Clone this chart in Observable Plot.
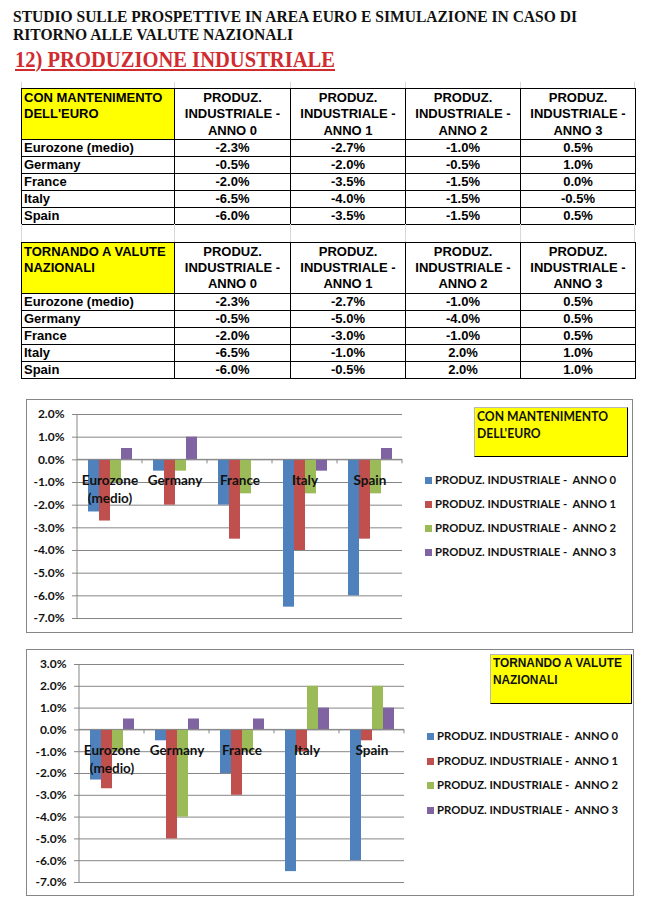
<!DOCTYPE html>
<html>
<head>
<meta charset="utf-8">
<script src="https://cdn.jsdelivr.net/npm/d3@7"></script>
<script src="https://cdn.jsdelivr.net/npm/@observablehq/plot@0.6"></script>
<style>
  body { margin: 0; background: #fff; }
  #page { position: relative; width: 660px; height: 907px; overflow: hidden; background: #fff; }
  .fit { position: absolute; white-space: nowrap; transform-origin: 0 0; }
  .title { font-family: "Liberation Serif", "Times New Roman", serif; font-weight: bold; font-size: 16.5px; line-height: 18px; color: #111; }
  .heading { font-family: "Liberation Serif", "Times New Roman", serif; font-weight: bold; font-size: 23px; line-height: 26px; color: #d02b2f;
             text-decoration: underline; text-decoration-thickness: 2px; text-underline-offset: 2px; }
  table.t { position: absolute; left: 21px; border-collapse: collapse; table-layout: fixed; width: 614px;
            font-family: "Liberation Sans", Arial, sans-serif; font-weight: bold; font-size: 13px; color: #000; }
  table.t td { border: 1px solid #000; padding: 0 2px; white-space: nowrap; overflow: hidden; }
  table.t tr.data td { height: 16px; line-height: 16px; }
  table.t td.ttl { background: #ffff00; vertical-align: top; text-align: left; white-space: pre-line; line-height: 16.3px; padding-top: 1px; }
  table.t td.hd { vertical-align: top; text-align: center; white-space: normal; line-height: 16.3px; padding-top: 1px; }
  table.t td.val { text-align: center; }
  table.t td.lbl { text-align: left; }
  .gapline { position: absolute; width: 1px; background: #d6d8da; }
  .chart { position: absolute; }
  .chart .frame { position: absolute; left: 0; top: 0; right: 0; bottom: 0; border: 1px solid #868686; box-sizing: border-box; }
  .chart svg { position: absolute; left: 0; top: 0; }
  .ybox { position: absolute; background: #ffff00; border: 1px solid #b8b8b8; border-right: 1.5px solid #000; border-bottom: 1.5px solid #000; box-sizing: border-box; }
  .ybox .in { position: absolute; left: 2px; top: 0; white-space: pre; transform-origin: 0 0; color: #111; font-weight: bold; }
  .ybox1 .in { font-family: Lato, "Open Sans", sans-serif; font-size: 13px; line-height: 17px; }
  .ybox2 .in { font-family: "Liberation Sans", Arial, sans-serif; font-size: 13.5px; line-height: 16.6px; }
  .leg { position: absolute; height: 14px; line-height: 14px; white-space: pre; font-family: Lato, "Open Sans", sans-serif; font-weight: bold; font-size: 11.3px; color: #111; }
  .leg .sw { display: inline-block; width: 7px; height: 7px; margin-right: 3px; vertical-align: 0px; }
</style>
</head>
<body>
<div id="page"></div>
<script>
// ---------------- DATA ----------------
const pageTitle = ["STUDIO SULLE PROSPETTIVE IN AREA EURO E SIMULAZIONE IN CASO DI", "RITORNO ALLE VALUTE NAZIONALI"];
const sectionTitle = "12) PRODUZIONE INDUSTRIALE";
const scenarioTitles = ["CON MANTENIMENTO\nDELL'EURO", "TORNANDO A VALUTE\nNAZIONALI"];
const countries = ["Eurozone (medio)", "Germany", "France", "Italy", "Spain"];
const series = ["PRODUZ. INDUSTRIALE -  ANNO 0", "PRODUZ. INDUSTRIALE -  ANNO 1", "PRODUZ. INDUSTRIALE -  ANNO 2", "PRODUZ. INDUSTRIALE -  ANNO 3"];
const colors = ["#4f81bd", "#c0504d", "#9bbb59", "#8064a2"];
// values per country (rows) and year (columns), in %
const euroValues = [
  [-2.3, -2.7, -1.0, 0.5],
  [-0.5, -2.0, -0.5, 1.0],
  [-2.0, -3.5, -1.5, 0.0],
  [-6.5, -4.0, -1.5, -0.5],
  [-6.0, -3.5, -1.5, 0.5]
];
const nationalValues = [
  [-2.3, -2.7, -1.0, 0.5],
  [-0.5, -5.0, -4.0, 0.5],
  [-2.0, -3.0, -1.0, 0.5],
  [-6.5, -1.0, 2.0, 1.0],
  [-6.0, -0.5, 2.0, 1.0]
];
const yTicksEuro = [2, 1, 0, -1, -2, -3, -4, -5, -6, -7];
const yTicksNational = [3, 2, 1, 0, -1, -2, -3, -4, -5, -6, -7];

// ---------------- LAYOUT ----------------
const page = document.getElementById("page");
const fmt = v => v.toFixed(1) + "%";

function fitText(cls, text, left, top, targetWidth) {
  const el = document.createElement("div");
  el.className = "fit " + cls;
  el.textContent = text;
  el.style.left = left + "px";
  el.style.top = top + "px";
  page.appendChild(el);
  const w = el.getBoundingClientRect().width;
  el.style.transform = `scaleX(${targetWidth / w})`;
  return el;
}
fitText("title", pageTitle[0], 12.5, 7.8, 564);
fitText("title", pageTitle[1], 12.5, 26.1, 280);
fitText("heading", sectionTitle, 14.5, 47, 320);

function buildTable(top, title, values) {
  const t = document.createElement("table");
  t.className = "t";
  t.style.top = top + "px";
  const cg = document.createElement("colgroup");
  [153, 116, 115, 115, 115].forEach(w => { const c = document.createElement("col"); c.style.width = w + "px"; cg.appendChild(c); });
  t.appendChild(cg);
  const hr = document.createElement("tr");
  hr.style.height = "51px";
  const th = document.createElement("td"); th.className = "ttl"; th.textContent = title; hr.appendChild(th);
  series.forEach(s => { const td = document.createElement("td"); td.className = "hd"; td.textContent = s; hr.appendChild(td); });
  t.appendChild(hr);
  countries.forEach((c, i) => {
    const tr = document.createElement("tr"); tr.className = "data";
    const l = document.createElement("td"); l.className = "lbl"; l.textContent = c; tr.appendChild(l);
    values[i].forEach(v => { const td = document.createElement("td"); td.className = "val"; td.textContent = fmt(v); tr.appendChild(td); });
    t.appendChild(tr);
  });
  page.appendChild(t);
}
buildTable(88, scenarioTitles[0], euroValues);
buildTable(241.5, scenarioTitles[1], nationalValues);
[21, 174, 290, 405, 520, 634].forEach(x => {
  const d = document.createElement("div"); d.className = "gapline";
  d.style.left = x + "px"; d.style.top = "224px"; d.style.height = "18px"; page.appendChild(d);
  const u = document.createElement("div"); u.className = "gapline";
  u.style.left = x + "px"; u.style.top = "82px"; u.style.height = "6px"; page.appendChild(u);
});

function drawChart(g, values, yTicks, scenario, boxCls) {
  const wrap = document.createElement("div");
  wrap.className = "chart";
  Object.assign(wrap.style, { left: g.left + "px", top: g.top + "px", width: g.w + "px", height: g.h + "px" });
  const frame = document.createElement("div"); frame.className = "frame"; wrap.appendChild(frame);
  page.appendChild(wrap);

  const rows = [];
  countries.forEach((c, i) => series.forEach((s, j) => rows.push({ country: c, series: s, value: values[i][j] })));
  const yDomain = [d3.min(yTicks), d3.max(yTicks)];

  const plot = Plot.plot({
    width: g.w, height: g.h,
    marginLeft: g.ml, marginRight: g.mr, marginTop: g.mt, marginBottom: g.mb,
    style: { background: "transparent", fontFamily: "Lato, 'Open Sans', sans-serif", overflow: "visible" },
    fx: { domain: countries, paddingInner: 0, paddingOuter: 0, axis: null, label: null },
    x: { domain: series, paddingInner: 0, paddingOuter: 0.78, axis: null },
    y: { domain: yDomain, label: null },
    color: { domain: series, range: colors },
    marks: [
      Plot.gridY(yTicks, { stroke: "#868686", strokeOpacity: 1 }),
      Plot.axisY(yTicks, { tickSize: 5, tickPadding: 8, tickFormat: fmt, fontSize: 12, fontWeight: "bold",
                           stroke: "#868686", fill: "#111", label: null }),
      Plot.barY(rows, { fx: "country", x: "series", y: "value", fill: "series", inset: 0 }),
      Plot.text(countries, { fx: d => d, y: () => 0, text: d => d.replace(" (", "\n("), lineAnchor: "top", dy: 12,
                             fontSize: 13.5, fontWeight: "bold", fill: "#111", lineHeight: 1.33 })
    ]
  });
  wrap.appendChild(plot);

  // y axis line and category boundary ticks, positioned through Plot's own scales
  const fx = plot.scale("fx"), y = plot.scale("y");
  const svg = d3.select(plot);
  const x0 = fx.apply(countries[0]);
  const xs = countries.map(c => fx.apply(c)).concat([fx.apply(countries[countries.length - 1]) + fx.bandwidth]);
  svg.append("line").attr("x1", x0).attr("x2", x0).attr("y1", y.apply(yDomain[1])).attr("y2", y.apply(yDomain[0]))
     .attr("stroke", "#868686");
  svg.append("line").attr("x1", xs[0]).attr("x2", xs[xs.length - 1]).attr("y1", y.apply(0)).attr("y2", y.apply(0))
     .attr("stroke", "#868686");
  xs.slice(1).forEach(x => svg.append("line").attr("x1", x).attr("x2", x).attr("y1", y.apply(0)).attr("y2", y.apply(0) + 4)
     .attr("stroke", "#868686"));

  // scenario label box
  const yb = document.createElement("div");
  yb.className = "ybox " + boxCls;
  Object.assign(yb.style, { left: g.box[0] + "px", top: g.box[1] + "px", width: g.box[2] + "px", height: g.box[3] + "px" });
  const inner = document.createElement("div");
  inner.className = "in";
  inner.textContent = scenario;
  yb.appendChild(inner);
  wrap.appendChild(yb);
  const iw = inner.getBoundingClientRect().width;
  inner.style.transform = `scaleX(${g.boxText / iw})`;

  // legend
  series.forEach((s, i) => {
    const row = document.createElement("div");
    row.className = "leg";
    row.style.left = g.legX + "px";
    row.style.top = (g.legY[i] - 7) + "px";
    const sw = document.createElement("span"); sw.className = "sw"; sw.style.background = colors[i];
    row.appendChild(sw);
    row.appendChild(document.createTextNode(s));
    wrap.appendChild(row);
  });
}

drawChart({ left: 26, top: 399, w: 607, h: 234, ml: 51, mr: 231, mt: 15, mb: 15,
            box: [448, 8, 154, 50], boxText: 131, legX: 399, legY: [81, 105, 129, 153] },
          euroValues, yTicksEuro, scenarioTitles[0], "ybox1");
drawChart({ left: 26, top: 649, w: 608, h: 247, ml: 52, mr: 230, mt: 15, mb: 14,
            box: [464, 5, 142, 50], boxText: 129, legX: 401, legY: [87, 112, 136, 161] },
          nationalValues, yTicksNational, scenarioTitles[1], "ybox2");
</script>
</body>
</html>
